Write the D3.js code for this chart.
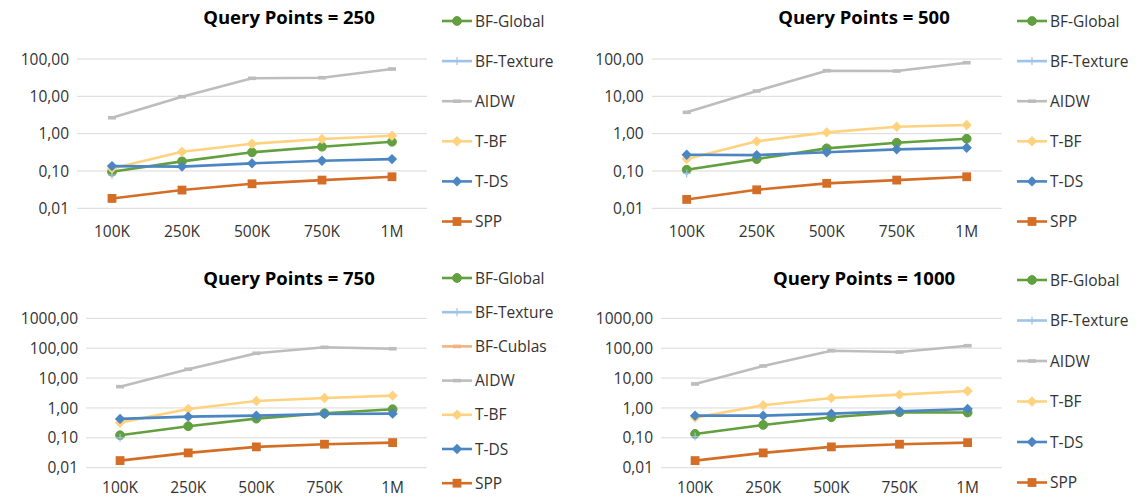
<!DOCTYPE html>
<html>
<head>
<meta charset="utf-8">
<script src="https://d3js.org/d3.v7.min.js"></script>
<style>
  body { margin: 0; background: #fff; }
  svg { display: block; font-family: "Open Sans", sans-serif; }
</style>
</head>
<body>
<svg id="chart"></svg>
<script>
const width = 1136;
const height = 499;

const categories = ["100K", "250K", "500K", "750K", "1M"];
const ticksTop = [0.01, 0.1, 1, 10, 100];
const ticksBottom = [0.01, 0.1, 1, 10, 100, 1000];

// Query Points = 250
const q250BFGlobal = [0.095, 0.181, 0.316, 0.447, 0.607];
const q250BFTexture = [0.078, null, null, null, null];
const q250AIDW = [2.67, 9.76, 30.4, 31.5, 54];
const q250TBF = [0.117, 0.327, 0.537, 0.716, 0.879];
const q250TDS = [0.135, 0.131, 0.160, 0.188, 0.208];
const q250SPP = [0.0184, 0.0308, 0.0454, 0.057, 0.070];

// Query Points = 500
const q500BFGlobal = [0.108, 0.208, 0.404, 0.570, 0.73];
const q500BFTexture = [0.086, null, null, null, null];
const q500AIDW = [3.72, 13.9, 48.6, 47.7, 79.6];
const q500TBF = [0.208, 0.622, 1.08, 1.53, 1.70];
const q500TDS = [0.272, 0.266, 0.316, 0.38, 0.419];
const q500SPP = [0.0173, 0.0313, 0.0466, 0.057, 0.070];

// Query Points = 750
const q750BFGlobal = [0.122, 0.244, 0.439, 0.665, 0.905];
const q750BFTexture = [0.10, null, null, null, null];
const q750BFCublas = [null, null, null, null, null];
const q750AIDW = [5.15, 19.7, 67.5, 107, 96];
const q750TBF = [0.322, 0.926, 1.71, 2.16, 2.58];
const q750TDS = [0.429, 0.512, 0.552, 0.63, 0.645];
const q750SPP = [0.0173, 0.0313, 0.0497, 0.0611, 0.069];

// Query Points = 1000
const q1000BFGlobal = [0.135, 0.27, 0.489, 0.718, 0.70];
const q1000BFTexture = [0.11, null, null, null, null];
const q1000AIDW = [6.35, 25.4, 82.5, 74.6, 121];
const q1000TBF = [0.474, 1.23, 2.16, 2.79, 3.7];
const q1000TDS = [0.552, 0.552, 0.645, 0.776, 0.926];
const q1000SPP = [0.0173, 0.0313, 0.0497, 0.0611, 0.069];

const styles = {
  "BF-Global":  { color: "#62A03F", marker: "circle" },
  "BF-Texture": { color: "#9DC3E6", marker: "plus" },
  "BF-Cublas":  { color: "#F4B183", marker: "dash" },
  "AIDW":       { color: "#BDBDBD", marker: "dash" },
  "T-BF":       { color: "#FFD27F", marker: "diamond" },
  "T-DS":       { color: "#4B86C3", marker: "diamond" },
  "SPP":        { color: "#D46E27", marker: "square" }
};

const panels = [
  { title: "Query Points = 250", titleX: 289, titleY: 24,
    left: 77, right: 427, top: 59, bottom: 208.3, ticks: ticksTop,
    labelY: 237, legendX: 442, legendY: 21, legendStep: 40.1,
    series: [["BF-Global", q250BFGlobal], ["BF-Texture", q250BFTexture], ["AIDW", q250AIDW],
             ["T-BF", q250TBF], ["T-DS", q250TDS], ["SPP", q250SPP]] },
  { title: "Query Points = 500", titleX: 864, titleY: 24,
    left: 651.7, right: 1001.7, top: 59, bottom: 208.3, ticks: ticksTop,
    labelY: 237, legendX: 1017, legendY: 21, legendStep: 40.1,
    series: [["BF-Global", q500BFGlobal], ["BF-Texture", q500BFTexture], ["AIDW", q500AIDW],
             ["T-BF", q500TBF], ["T-DS", q500TDS], ["SPP", q500SPP]] },
  { title: "Query Points = 750", titleX: 289, titleY: 285,
    left: 86, right: 426.7, top: 318.3, bottom: 467.7, ticks: ticksBottom,
    labelY: 493, legendX: 442, legendY: 278, legendStep: 34.2,
    series: [["BF-Global", q750BFGlobal], ["BF-Texture", q750BFTexture], ["BF-Cublas", q750BFCublas],
             ["AIDW", q750AIDW], ["T-BF", q750TBF], ["T-DS", q750TDS], ["SPP", q750SPP]] },
  { title: "Query Points = 1000", titleX: 864, titleY: 285,
    left: 661, right: 1001.7, top: 318.3, bottom: 467.7, ticks: ticksBottom,
    labelY: 493, legendX: 1017, legendY: 280, legendStep: 40.5,
    series: [["BF-Global", q1000BFGlobal], ["BF-Texture", q1000BFTexture], ["AIDW", q1000AIDW],
             ["T-BF", q1000TBF], ["T-DS", q1000TDS], ["SPP", q1000SPP]] }
];

const locale = d3.formatLocale({ decimal: ",", thousands: ".", grouping: [3], currency: ["", ""] });
const fmt = locale.format(".2f");

const svg = d3.select("#chart")
  .attr("width", width)
  .attr("height", height);

function drawMarker(g, type, color, x, y) {
  if (type === "circle") {
    g.append("circle").attr("cx", x).attr("cy", y).attr("r", 4.4)
      .attr("fill", color).attr("stroke", color);
  } else if (type === "diamond") {
    g.append("path").attr("d", `M${x},${y - 5.2}L${x + 5.2},${y}L${x},${y + 5.2}L${x - 5.2},${y}Z`)
      .attr("fill", color);
  } else if (type === "square") {
    g.append("rect").attr("x", x - 4.4).attr("y", y - 4.4).attr("width", 8.8).attr("height", 8.8)
      .attr("fill", color);
  } else if (type === "plus") {
    g.append("path").attr("d", `M${x - 4},${y}H${x + 4}M${x},${y - 4}V${y + 4}`)
      .attr("stroke", color).attr("stroke-width", 1.2).attr("fill", "none");
  } else if (type === "dash") {
    g.append("rect").attr("x", x - 4).attr("y", y - 1.8).attr("width", 8).attr("height", 3.6)
      .attr("fill", color);
  }
}

panels.forEach(p => {
  const g = svg.append("g");

  const x = d3.scaleBand().domain(categories).range([p.left, p.right]);
  const y = d3.scaleLog()
    .domain([p.ticks[0], p.ticks[p.ticks.length - 1]])
    .range([p.bottom, p.top]);

  // gridlines
  g.append("g")
    .selectAll("line")
    .data(p.ticks)
    .enter().append("line")
    .attr("x1", p.left).attr("x2", p.right)
    .attr("y1", d => y(d)).attr("y2", d => y(d))
    .attr("stroke", "#D9D9D9").attr("stroke-width", 1);

  // y labels
  g.append("g")
    .selectAll("text")
    .data(p.ticks)
    .enter().append("text")
    .attr("x", p.left - 8)
    .attr("y", d => y(d))
    .attr("dy", "0.36em")
    .attr("text-anchor", "end")
    .attr("font-size", 15.5)
    .attr("fill", "#333")
    .text(d => fmt(d));

  // x labels
  g.append("g")
    .selectAll("text")
    .data(categories)
    .enter().append("text")
    .attr("x", d => x(d) + x.bandwidth() / 2)
    .attr("y", p.labelY)
    .attr("text-anchor", "middle")
    .attr("font-size", 15.5)
    .attr("fill", "#333")
    .text(d => d);

  // title
  g.append("text")
    .attr("x", p.titleX)
    .attr("y", p.titleY)
    .attr("text-anchor", "middle")
    .attr("font-size", 18.5)
    .attr("font-weight", "bold")
    .attr("fill", "#000")
    .text(p.title);

  // series
  const line = d3.line()
    .defined(d => d.v != null)
    .x(d => x(d.c) + x.bandwidth() / 2)
    .y(d => y(d.v));

  p.series.forEach(([name, values]) => {
    const st = styles[name];
    const pts = categories.map((c, i) => ({ c: c, v: values[i] }));
    const sg = g.append("g");
    sg.append("path")
      .datum(pts)
      .attr("d", line)
      .attr("fill", "none")
      .attr("stroke", st.color)
      .attr("stroke-width", 2.6)
      .attr("stroke-linejoin", "round");
    pts.filter(d => d.v != null).forEach(d => {
      drawMarker(sg, st.marker, st.color, x(d.c) + x.bandwidth() / 2, y(d.v));
    });
  });

  // legend
  p.series.forEach(([name], i) => {
    const st = styles[name];
    const ly = p.legendY + i * p.legendStep;
    const lg = g.append("g");
    lg.append("line")
      .attr("x1", p.legendX).attr("x2", p.legendX + 30)
      .attr("y1", ly).attr("y2", ly)
      .attr("stroke", st.color).attr("stroke-width", 2.6);
    drawMarker(lg, st.marker, st.color, p.legendX + 15, ly);
    lg.append("text")
      .attr("x", p.legendX + 33)
      .attr("y", ly)
      .attr("dy", "0.36em")
      .attr("font-size", 15.5)
      .attr("fill", "#333")
      .text(name);
  });
});
</script>
</body>
</html>
